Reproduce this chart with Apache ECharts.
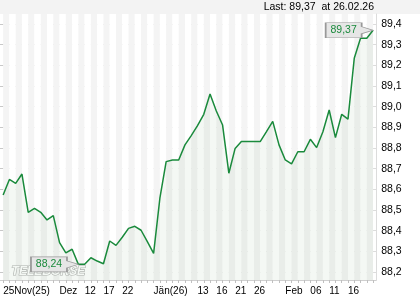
<!DOCTYPE html>
<html><head><meta charset="utf-8">
<script src="https://cdn.jsdelivr.net/npm/echarts@6/dist/echarts.min.js"></script>
<style>html,body{margin:0;padding:0;background:#fff}#c{width:420px;height:300px}</style>
</head><body><div id="c"></div>
<script>
const dates = ['25.11.25','26.11.25','27.11.25','28.11.25','01.12.25','02.12.25','03.12.25','04.12.25','05.12.25','08.12.25',
  '09.12.25','10.12.25','11.12.25','12.12.25','15.12.25','16.12.25','17.12.25','18.12.25','19.12.25','22.12.25',
  '23.12.25','29.12.25','30.12.25','31.12.25','02.01.26','05.01.26','06.01.26','07.01.26','08.01.26','09.01.26',
  '12.01.26','13.01.26','14.01.26','15.01.26','16.01.26','19.01.26','20.01.26','21.01.26','22.01.26','23.01.26',
  '26.01.26','27.01.26','28.01.26','29.01.26','30.01.26','02.02.26','03.02.26','04.02.26','05.02.26','06.02.26',
  '09.02.26','10.02.26','11.02.26','12.02.26','13.02.26','16.02.26','18.02.26','20.02.26','24.02.26','26.02.26'];
const values = [88.573, 88.648, 88.629, 88.674, 88.489, 88.508, 88.489, 88.452, 88.473, 88.342,
  88.293, 88.310, 88.237, 88.237, 88.269, 88.253, 88.240, 88.350, 88.329, 88.368,
  88.411, 88.421, 88.402, 88.347, 88.290, 88.557, 88.734, 88.742, 88.742, 88.815,
  88.860, 88.908, 88.963, 89.061, 88.979, 88.911, 88.678, 88.798, 88.831, 88.831,
  88.831, 88.831, 88.879, 88.929, 88.815, 88.742, 88.723, 88.782, 88.782, 88.842,
  88.802, 88.879, 88.984, 88.850, 88.963, 88.940, 89.234, 89.331, 89.331, 89.370];
const xTickIndex = [0, 9, 13, 16, 19, 24, 31, 34, 37, 40, 45, 49, 52, 55];
const xTickText = ['25Nov(25)', 'Dez', '12', '17', '22', 'Jän(26)', '13', '16', '21', '26', 'Feb', '06', '11', '16'];
const yMin = 88.2, yMax = 89.4, yStep = 0.1;

const chart = echarts.init(document.getElementById('c'), null, {renderer: 'canvas'});
const W = 420, H = 300;
const pL = 0, pR = 43.8, pT = 14, pB = 20;
const gT = 24, gB = 28;
const band = (W - pL - pR) / dates.length;
const pxPerUnit = (H - gT - gB) / (yMax - yMin);
const dataMax = yMax + (gT - pT) / pxPerUnit;
const dataMin = yMin - (gB - pB) / pxPerUnit;
const fmt = v => v.toFixed(2).replace('.', ',');
const font = 'Liberation Sans, Arial, sans-serif';
const last = values.length - 1;
const labelMap = {};
xTickIndex.forEach((i, k) => { labelMap[i] = xTickText[k]; });
const pin = 'path://M0,0H36V4L47.4,7.5L36,11V15H0Z';
const green = '#1a8a3c';

const option = {
  animation: false,
  graphic: [
    {type: 'rect', left: 0, top: 0, shape: {width: W, height: pT}, style: {fill: '#f3f3f3'}, z: -10},
    {type: 'text', right: W - 374, top: 2, style: {text: 'Last: ' + fmt(values[last]) + '  at ' + dates[last], fontSize: 10.5, fontFamily: font, fill: '#000'}},
    {type: 'text', left: 11, top: 265, z: 3, style: {text: 'TELEBÖRSE', fontSize: 12, fontWeight: 'bold', fontStyle: 'italic', fontFamily: font, fill: '#ffffff', stroke: '#b4b4b4', lineWidth: 1.2}}
  ],
  grid: [
    {left: pL + band / 2, right: pR + band / 2, top: pT, bottom: pB},
    {left: pL, right: pR, top: gT, bottom: gB},
    {left: pL, right: pR, top: pT, bottom: pB}
  ],
  xAxis: [
    {gridIndex: 0, type: 'category', data: dates, boundaryGap: false,
      axisLine: {show: false}, axisTick: {show: false}, axisLabel: {show: false}, splitLine: {show: false},
      splitArea: {show: true, interval: 0, areaStyle: {color: ['#f4f4f4', '#ffffff']}}},
    {gridIndex: 1, type: 'value', show: false, min: 0, max: 1},
    {gridIndex: 2, type: 'category', data: dates, boundaryGap: true,
      axisLine: {show: true, lineStyle: {color: '#cfcfcf'}},
      axisTick: {show: true, interval: 0, alignWithLabel: true, length: 3, lineStyle: {color: '#c0c0c0'}},
      axisLabel: {interval: i => labelMap[i] !== undefined, formatter: (v, i) => labelMap[i] || '', align: 'left',
        margin: 6, fontSize: 10, color: '#000', fontFamily: font},
      splitLine: {show: false}}
  ],
  yAxis: [
    {gridIndex: 0, type: 'value', show: false, min: 0, max: 1},
    {gridIndex: 1, type: 'value', position: 'right', min: yMin, max: yMax, interval: yStep,
      axisLine: {show: false}, axisTick: {show: true, length: 3, lineStyle: {color: '#c8c8c8'}},
      axisLabel: {margin: 5, fontSize: 10.5, color: '#000', fontFamily: font, formatter: v => v.toFixed(1).replace('.', ',')},
      splitLine: {show: true, lineStyle: {color: '#dcdcdc'}}},
    {gridIndex: 2, type: 'value', position: 'right', min: dataMin, max: dataMax,
      axisLine: {show: true, lineStyle: {color: '#dcdcdc'}}, axisTick: {show: false}, axisLabel: {show: false}, splitLine: {show: false}}
  ],
  series: [{
    type: 'line', xAxisIndex: 2, yAxisIndex: 2, data: values, symbol: 'none',
    lineStyle: {color: green, width: 1.5}, itemStyle: {color: green},
    areaStyle: {color: 'rgba(40,120,40,0.07)'},
    markPoint: {
      symbol: pin, symbolSize: [47.4, 15], symbolOffset: [-23.7, 0],
      itemStyle: {color: '#e6e6e6', borderColor: '#999999', borderWidth: 1},
      label: {show: true, position: 'inside', offset: [-5.7, 0], color: green, fontSize: 10.5, fontFamily: font,
        formatter: p => fmt(p.value)},
      data: [{type: 'min', name: 'min'}, {name: 'last', coord: [last, values[last]], value: values[last]}]
    }
  }]
};
chart.setOption(option);
</script></body></html>
